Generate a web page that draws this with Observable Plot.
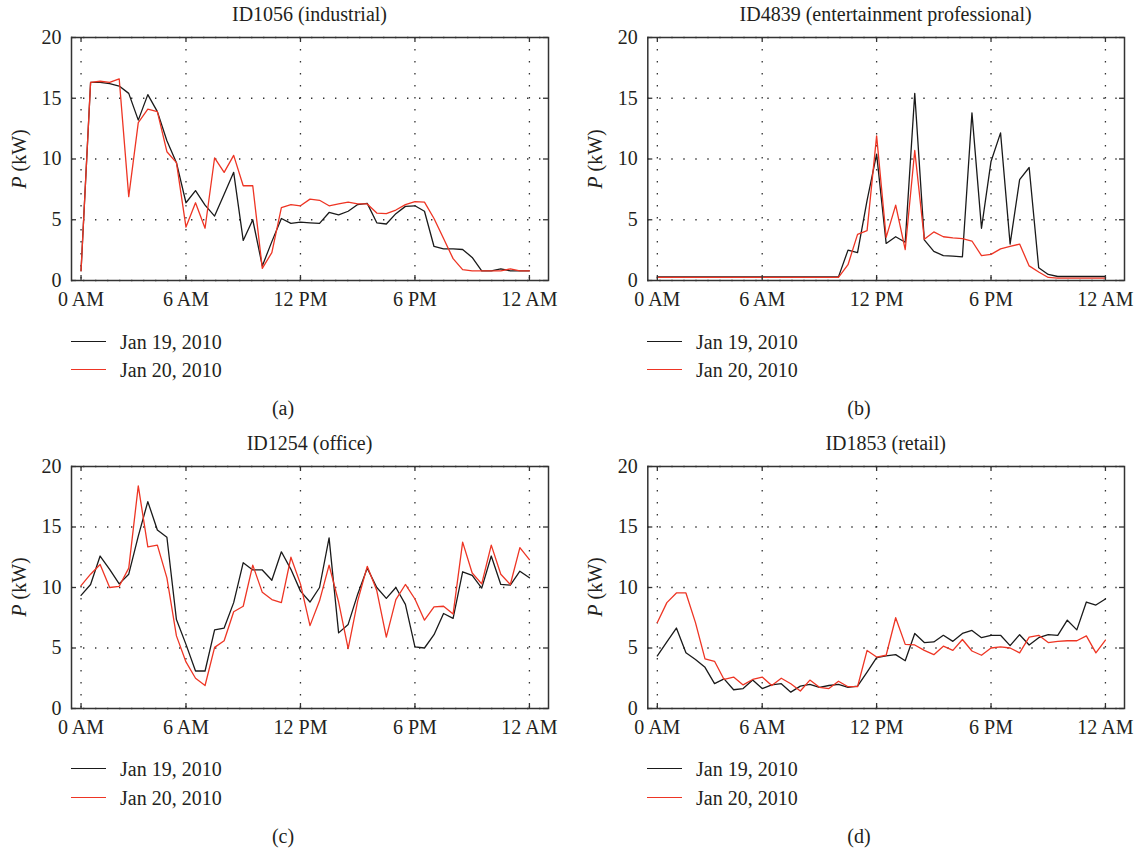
<!DOCTYPE html>
<html>
<head>
<meta charset="utf-8">
<script src="https://cdn.jsdelivr.net/npm/d3@7"></script>
<script src="https://cdn.jsdelivr.net/npm/@observablehq/plot@0.6"></script>
<style>
  html, body { margin: 0; padding: 0; background: #fff; }
  #fig { position: relative; width: 1142px; height: 850px; font-family: "Liberation Serif", "DejaVu Serif", serif; color: #231f20; overflow: hidden; }
  #fig svg { position: absolute; }
  .t { position: absolute; white-space: nowrap; font-size: 20px; line-height: 1; }
  .c { transform: translate(-50%, -50%); }
  .l { transform: translate(0, -50%); }
  .ylab { transform: translate(-50%, -50%) rotate(-90deg); }
  .swatch { position: absolute; width: 35px; height: 0; }
</style>
</head>
<body>
<div id="fig"></div>
<script>
// Half-hourly readings, 00:30 through 24:00 (hours of day)
const hours = [0.5, 1, 1.5, 2, 2.5, 3, 3.5, 4, 4.5, 5, 5.5, 6, 6.5, 7, 7.5, 8, 8.5, 9, 9.5, 10, 10.5, 11, 11.5, 12,
  12.5, 13, 13.5, 14, 14.5, 15, 15.5, 16, 16.5, 17, 17.5, 18, 18.5, 19, 19.5, 20, 20.5, 21, 21.5, 22, 22.5, 23, 23.5, 24];

const days = ["Jan 19, 2010", "Jan 20, 2010"];
const dayColors = ["#1a1a1a", "#ee3524"];

const xTicks = [0.5, 6, 12, 18, 24];
const xTickLabels = ["0 AM", "6 AM", "12 PM", "6 PM", "12 AM"];
const yTicks = [0, 5, 10, 15, 20];

// ID1056 (industrial), kW
const ind19 = [0.8, 16.3, 16.3, 16.2, 16.0, 15.4, 13.2, 15.3, 13.9, 11.5, 9.7, 6.4, 7.4, 6.2, 5.3, 7.1, 8.9, 3.3, 5.0, 1.2, 3.2, 5.1, 4.7, 4.8,
  4.75, 4.7, 5.6, 5.4, 5.7, 6.25, 6.35, 4.75, 4.65, 5.5, 6.1, 6.15, 5.7, 2.8, 2.6, 2.6, 2.55, 1.9, 0.8, 0.8, 0.95, 0.8, 0.8, 0.8];
const ind20 = [0.8, 16.3, 16.4, 16.3, 16.6, 6.9, 13.0, 14.1, 13.9, 10.6, 9.7, 4.4, 6.4, 4.3, 10.1, 8.9, 10.3, 7.8, 7.8, 1.0, 2.3, 6.0, 6.25, 6.15,
  6.7, 6.6, 6.15, 6.3, 6.45, 6.3, 6.3, 5.55, 5.5, 5.8, 6.25, 6.5, 6.45, 5.1, 3.45, 1.8, 0.9, 0.8, 0.8, 0.8, 0.8, 0.95, 0.8, 0.8];

// ID4839 (entertainment professional), kW
const ent19 = [0.3, 0.3, 0.3, 0.3, 0.3, 0.3, 0.3, 0.3, 0.3, 0.3, 0.3, 0.3, 0.3, 0.3, 0.3, 0.3, 0.3, 0.3, 0.3, 0.3, 2.5, 2.3, 6.6, 10.4,
  3.05, 3.6, 3.15, 15.4, 3.35, 2.4, 2.05, 2.0, 1.95, 13.8, 4.3, 9.8, 12.15, 3.0, 8.3, 9.3, 1.05, 0.5, 0.33, 0.33, 0.33, 0.33, 0.33, 0.33];
const ent20 = [0.25, 0.25, 0.25, 0.25, 0.25, 0.25, 0.25, 0.25, 0.25, 0.25, 0.25, 0.25, 0.25, 0.25, 0.25, 0.25, 0.25, 0.25, 0.25, 0.25, 1.3, 3.8, 4.1, 11.9,
  3.55, 6.2, 2.55, 10.7, 3.4, 4.0, 3.6, 3.5, 3.45, 3.25, 2.05, 2.15, 2.6, 2.8, 3.0, 1.2, 0.7, 0.25, 0.2, 0.2, 0.2, 0.2, 0.2, 0.2];

// ID1254 (office), kW
const off19 = [9.35, 10.25, 12.6, 11.5, 10.3, 11.1, 14.25, 17.1, 14.75, 14.15, 7.35, 5.3, 3.1, 3.1, 6.5, 6.65, 8.75, 12.05, 11.45, 11.45, 10.6, 12.95, 11.5, 9.7,
  8.8, 10.0, 14.1, 6.25, 6.95, 9.45, 11.6, 10.0, 9.1, 10.0, 8.6, 5.1, 5.0, 6.1, 7.85, 7.45, 11.3, 11.0, 9.95, 12.6, 10.25, 10.2, 11.35, 10.8];
const off20 = [10.15, 11.1, 11.9, 10.0, 10.1, 11.6, 18.4, 13.35, 13.5, 10.8, 6.0, 3.85, 2.5, 1.9, 5.05, 5.6, 8.0, 8.45, 11.85, 9.6, 9.0, 8.75, 12.5, 10.3,
  6.85, 8.9, 11.85, 8.8, 4.95, 8.9, 11.75, 9.75, 5.9, 9.0, 10.25, 9.05, 7.3, 8.4, 8.45, 7.8, 13.75, 11.2, 10.3, 13.5, 11.1, 10.25, 13.3, 12.3];

// ID1853 (retail), kW
const ret19 = [4.35, 5.5, 6.65, 4.6, 4.05, 3.4, 2.05, 2.45, 1.55, 1.65, 2.35, 1.65, 1.95, 2.05, 1.35, 1.85, 2.0, 1.75, 1.9, 2.0, 1.75, 1.85, 3.0, 4.2,
  4.35, 4.45, 3.95, 6.2, 5.45, 5.5, 6.05, 5.55, 6.2, 6.45, 5.85, 6.05, 6.05, 5.2, 6.1, 5.25, 5.85, 6.1, 6.05, 7.3, 6.5, 8.8, 8.55, 9.05];
const ret20 = [7.1, 8.75, 9.55, 9.55, 7.1, 4.1, 3.9, 2.4, 2.6, 1.95, 2.4, 2.6, 1.9, 2.5, 2.05, 1.45, 2.35, 1.75, 1.65, 2.25, 1.8, 1.8, 4.8, 4.25,
  4.4, 7.5, 5.3, 5.25, 4.8, 4.45, 5.15, 4.8, 5.7, 4.75, 4.4, 5.0, 5.1, 5.0, 4.6, 5.9, 6.05, 5.45, 5.55, 5.6, 5.6, 6.0, 4.6, 5.65];

const panels = [
  {title: "ID1056 (industrial)", caption: "(a)", d19: ind19, d20: ind20, col: 0, row: 0},
  {title: "ID4839 (entertainment professional)", caption: "(b)", d19: ent19, d20: ent20, col: 1, row: 0},
  {title: "ID1254 (office)", caption: "(c)", d19: off19, d20: off20, col: 0, row: 1},
  {title: "ID1853 (retail)", caption: "(d)", d19: ret19, d20: ret20, col: 1, row: 1}
];

const fig = document.getElementById("fig");
const ink = "#333";

function addText(html, x, y, cls) {
  const el = document.createElement("div");
  el.className = "t " + cls;
  el.style.left = x + "px";
  el.style.top = y + "px";
  el.innerHTML = html;
  fig.appendChild(el);
  return el;
}

for (const p of panels) {
  const left = p.col === 0 ? 0 : 576;
  const width = p.col === 0 ? 571 : 566;
  const marginLeft = p.col === 0 ? 71 : 71.3;
  const marginRight = p.col === 0 ? 23 : 18;
  const frameTop = p.row === 0 ? 37 : 465.5;
  const plotH = p.row === 0 ? 243 : 242;
  const marginTop = 10, marginBottom = 32;
  const plotW = width - marginLeft - marginRight;

  const series = [
    hours.map((t, i) => ({t, p: p.d19[i]})),
    hours.map((t, i) => ({t, p: p.d20[i]}))
  ];

  const dots = {stroke: ink, strokeWidth: 1.3, strokeDasharray: "1.4,10.6"};

  const svg = Plot.plot({
    width,
    height: marginTop + plotH + marginBottom,
    marginLeft, marginRight, marginTop, marginBottom,
    x: {domain: [0, 25], ticks: xTicks, tickFormat: d => xTickLabels[xTicks.indexOf(d)], tickSize: 0, tickPadding: 11, label: null},
    y: {domain: [0, 20], ticks: yTicks, tickSize: 0, tickPadding: 10, label: null},
    style: {fontFamily: "'Liberation Serif', serif", fontSize: "20px", color: "#231f20", background: "transparent", overflow: "visible"},
    marks: [
      Plot.ruleX(xTicks, dots),
      Plot.ruleY(yTicks, dots),
      Plot.line(series[0], {x: "t", y: "p", stroke: dayColors[0], strokeWidth: 1.3}),
      Plot.line(series[1], {x: "t", y: "p", stroke: dayColors[1], strokeWidth: 1.3}),
      // inward tick marks on all four sides
      Plot.ruleX(xTicks, {stroke: ink, strokeWidth: 1.3, insetTop: plotH - 5}),
      Plot.ruleX(xTicks, {stroke: ink, strokeWidth: 1.3, insetBottom: plotH - 5}),
      Plot.ruleY(yTicks, {stroke: ink, strokeWidth: 1.3, insetRight: plotW - 5}),
      Plot.ruleY(yTicks, {stroke: ink, strokeWidth: 1.3, insetLeft: plotW - 5}),
      Plot.frame({stroke: ink, strokeWidth: 1.5})
    ]
  });
  svg.style.left = left + "px";
  svg.style.top = (frameTop - marginTop) + "px";
  fig.appendChild(svg);

  const cx = left + marginLeft + plotW / 2;
  const cy = frameTop + plotH / 2;
  addText(p.title, cx, frameTop - 23, "c");
  addText("<i>P</i> (kW)", left + 19, cy, "ylab");

  // legend below the axis
  days.forEach((d, i) => {
    const ly = frameTop + plotH + 61.5 + i * 28.5;
    const sw = document.createElement("div");
    sw.className = "swatch";
    sw.style.left = (left + 71) + "px";
    sw.style.top = (ly - 0.7) + "px";
    sw.style.borderTop = "1.4px solid " + dayColors[i];
    fig.appendChild(sw);
    addText(d, left + 120, ly, "l");
  });

  addText(p.caption, left + 283, frameTop + plotH + 128, "c");
}
</script>
</body>
</html>
